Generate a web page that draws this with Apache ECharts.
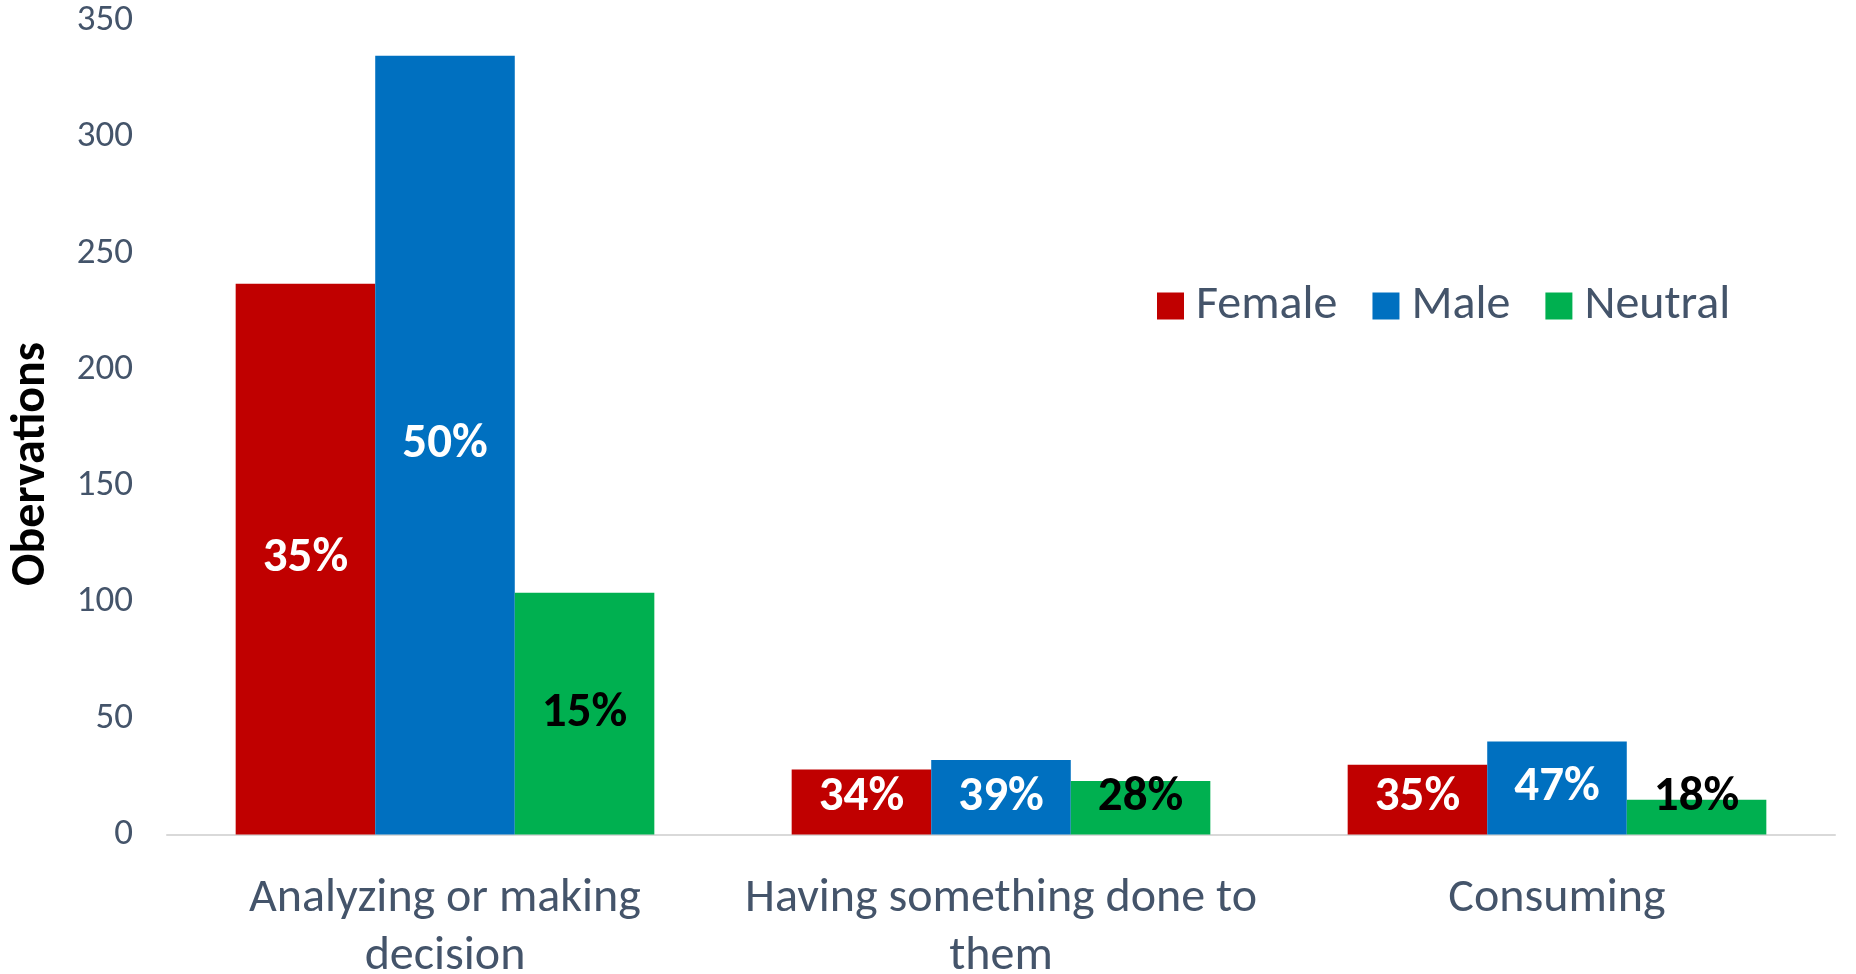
<!DOCTYPE html>
<html>
<head>
<meta charset="utf-8">
<script src="https://cdn.jsdelivr.net/npm/echarts@6/dist/echarts.min.js"></script>
<style>
  html, body { margin: 0; padding: 0; background: #fff; }
  #chart { width: 1856px; height: 974px; }
</style>
</head>
<body>
<div id="chart"></div>
<script>
// Observation counts by activity type and gender of the subject
const categories = ['Analyzing or making\ndecision', 'Having something done to\nthem', 'Consuming'];
const female = [237, 28, 30];
const male = [335, 32, 40];
const neutral = [104, 23, 15];
const yTicks = [0, 50, 100, 150, 200, 250, 300, 350];

const FONT = 'Carlito, Lato, sans-serif';
const TEXT = '#44546A';

// Group totals for the percentage labels
const totals = categories.map((_, i) => female[i] + male[i] + neutral[i]);
const pct = p => Math.round(p.value / totals[p.dataIndex] * 100) + '%';

// Short bars keep their label resting on the baseline instead of centred
function items(values) {
  return values.map(v => ({
    value: v,
    label: v < 34 ? { position: 'insideBottom', distance: 12 } : { position: 'inside' }
  }));
}

function barSeries(name, values, color, labelColor) {
  return {
    name: name,
    type: 'bar',
    data: items(values),
    itemStyle: { color: color },
    barGap: '0%',
    barCategoryGap: '24.7%',
    label: {
      show: true,
      formatter: pct,
      color: labelColor,
      fontFamily: FONT,
      fontWeight: 'bold',
      fontSize: 49
    }
  };
}

const chart = echarts.init(document.getElementById('chart'));
chart.setOption({
  animation: false,
  grid: { left: 167, right: 21, top: 21, bottom: 139.5, outerBoundsMode: 'none' },
  legend: {
    left: 1152,
    top: 277,
    itemWidth: 27,
    itemHeight: 27,
    itemGap: 35,
    icon: 'rect',
    textStyle: { color: TEXT, fontFamily: FONT, fontSize: 48, padding: [0, 0, 0, 7] },
    data: ['Female', 'Male', 'Neutral']
  },
  xAxis: {
    type: 'category',
    data: categories,
    axisLine: { lineStyle: { color: '#D9D9D9', width: 2 } },
    axisTick: { show: false },
    axisLabel: { interval: 0, color: TEXT, fontFamily: FONT, fontSize: 48, lineHeight: 58, margin: 35 }
  },
  yAxis: {
    type: 'value',
    min: 0,
    max: 350,
    interval: 50,
    splitLine: { show: false },
    axisLine: { show: false },
    axisTick: { show: false },
    axisLabel: {
      color: TEXT, fontFamily: FONT, fontSize: 37, margin: 34,
      formatter: v => (yTicks.includes(v) ? String(v) : '')
    }
  },
  graphic: [{
    type: 'text',
    x: 32,
    y: 464,
    rotation: Math.PI / 2,
    style: {
      text: 'Obervations',
      fill: '#000',
      font: 'bold 48px ' + FONT,
      align: 'center',
      verticalAlign: 'middle'
    }
  }],
  series: [
    barSeries('Female', female, '#C00000', '#FFFFFF'),
    barSeries('Male', male, '#0070C0', '#FFFFFF'),
    barSeries('Neutral', neutral, '#00B050', '#000000')
  ]
});
</script>
</body>
</html>
